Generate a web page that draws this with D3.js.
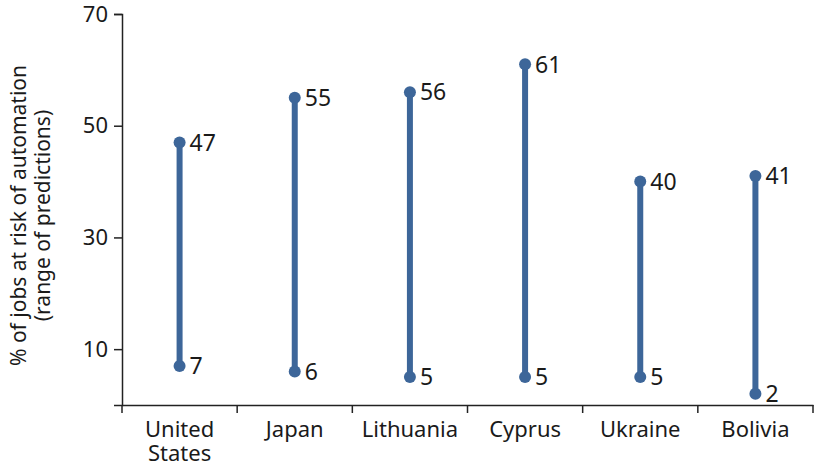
<!DOCTYPE html>
<html>
<head>
<meta charset="utf-8">
<script src="https://cdn.jsdelivr.net/npm/d3@7"></script>
<style>
html,body{margin:0;padding:0;background:#fff;}
svg text{font-family:"Noto Sans",sans-serif;fill:#1a1a1a;}
</style>
</head>
<body>
<svg id="chart" width="815" height="465"></svg>
<script>
const categories = ["United States", "Japan", "Lithuania", "Cyprus", "Ukraine", "Bolivia"];
const lowValues = [7, 6, 5, 5, 5, 2];
const highValues = [47, 55, 56, 61, 40, 41];
const yTicks = [10, 30, 50, 70];

const svg = d3.select("#chart");
const margin = {left: 122, right: 2, top: 14, bottom: 60};
const W = 815, H = 465;
const x = d3.scaleBand().domain(categories).range([margin.left, W - margin.right]);
const y = d3.scaleLinear().domain([0, 70]).range([H - margin.bottom, margin.top]);
const color = "#3d6699";

// axes
const yAxis = svg.append("g").attr("transform", `translate(${margin.left},0)`)
  .call(d3.axisLeft(y).tickValues(yTicks).tickSize(8).tickPadding(6));
yAxis.select(".domain").attr("stroke", "#222").attr("stroke-width", 1.5);
yAxis.selectAll(".tick line").attr("stroke", "#222").attr("stroke-width", 1.5);
yAxis.selectAll("text").attr("font-size", 22).style("fill", "#1a1a1a");

const xAxis = svg.append("g").attr("transform", `translate(0,${y(0)})`)
  .call(d3.axisBottom(x).tickSize(0).tickPadding(12));
xAxis.select(".domain").attr("stroke", "#222").attr("stroke-width", 1.5);
xAxis.selectAll(".tick line").remove();
// boundary ticks between bands
const bounds = categories.map(c => x(c)).concat([x(categories[categories.length-1]) + x.bandwidth()]);
svg.append("g").selectAll("line").data(bounds).join("line")
  .attr("x1", d => d).attr("x2", d => d)
  .attr("y1", y(0)).attr("y2", y(0) + 8)
  .attr("stroke", "#222").attr("stroke-width", 1.5);

xAxis.selectAll(".tick text").attr("font-size", 22).attr("dy", null).text(null)
  .each(function(d) {
    const t = d3.select(this);
    const words = d.split(" ");
    words.forEach((w, i) => {
      t.append("tspan").attr("x", 0).attr("dy", i === 0 ? "0" : "1.1em").text(w);
    });
  });
xAxis.selectAll(".tick text").attr("y", 32);

// y title
const title = svg.append("text")
  .attr("transform", `translate(26,${(y(0)+y(70))/2 + 6}) rotate(-90)`)
  .attr("text-anchor", "middle").attr("font-size", 21);
title.append("tspan").attr("x", 0).attr("dy", 0).text("% of jobs at risk of automation");
title.append("tspan").attr("x", 0).attr("dy", "1.15em").text("(range of predictions)");

const data = categories.map((c, i) => ({c, lo: lowValues[i], hi: highValues[i]}));
const cx = d => x(d.c) + x.bandwidth() / 2;

const g = svg.append("g");
g.selectAll("line.stem").data(data).join("line").attr("class", "stem")
  .attr("x1", cx).attr("x2", cx)
  .attr("y1", d => y(d.lo)).attr("y2", d => y(d.hi))
  .attr("stroke", color).attr("stroke-width", 6);
g.selectAll("circle.lo").data(data).join("circle").attr("class", "lo")
  .attr("cx", cx).attr("cy", d => y(d.lo)).attr("r", 6).attr("fill", color);
g.selectAll("circle.hi").data(data).join("circle").attr("class", "hi")
  .attr("cx", cx).attr("cy", d => y(d.hi)).attr("r", 6).attr("fill", color);

g.selectAll("text.lo").data(data).join("text").attr("class", "lo")
  .attr("x", d => cx(d) + 10).attr("y", d => y(d.lo)).attr("dy", "0.36em")
  .attr("font-size", 23).text(d => d.lo);
g.selectAll("text.hi").data(data).join("text").attr("class", "hi")
  .attr("x", d => cx(d) + 10).attr("y", d => y(d.hi)).attr("dy", "0.36em")
  .attr("font-size", 23).text(d => d.hi);
</script>
</body>
</html>
